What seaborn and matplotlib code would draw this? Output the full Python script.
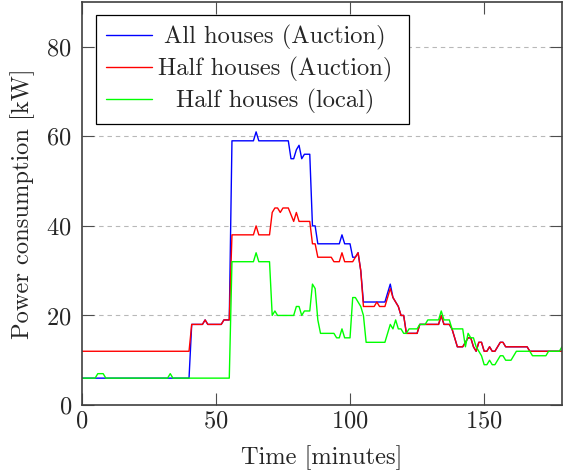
import matplotlib
matplotlib.use("Agg")
import matplotlib.pyplot as plt
from matplotlib.offsetbox import DrawingArea
import numpy as np
import pandas as pd
import seaborn as sns

# ---------------- data ----------------
series_names = ["All houses (Auction)", "Half houses (Auction)", "Half houses (local)"]

blue_t = [0, 40, 41, 45, 46, 47, 52, 53, 55, 56, 64, 65, 66, 77, 78, 79, 80, 81, 82, 83,
          85, 86, 87, 88, 96, 97, 98, 100, 101, 102, 103, 104, 105, 113, 115, 116, 117, 118, 119, 120,
          121, 125, 126, 133, 134, 135, 137, 138, 140, 142, 144, 145, 146, 147, 148, 149, 150, 151, 152, 153,
          154, 155, 156, 157, 158, 166, 167, 179]
blue_v = [6, 6, 18, 18, 19, 18, 18, 19, 19, 59, 59, 61, 59, 59, 55, 55, 57, 58, 55, 56,
          56, 40, 40, 36, 36, 38, 36, 36, 33, 33, 34, 30, 23, 23, 27, 24, 23, 22, 20, 20,
          16, 16, 18, 18, 20, 18, 18, 17, 13, 13, 15, 15, 13, 12, 14, 14, 12, 12, 13, 12,
          12, 13, 14, 14, 13, 13, 12, 12]

red_t = [0, 40, 41, 45, 46, 47, 52, 53, 55, 56, 64, 65, 66, 70, 71, 72, 73, 74, 75, 77,
         79, 80, 81, 85, 86, 87, 88, 93, 94, 96, 97, 98, 101, 102, 103, 104, 105, 109, 110, 111,
         113, 115, 116, 117, 118, 119, 120, 121, 125, 126, 133, 134, 135, 137, 138, 140, 142, 144, 145, 146,
         147, 148, 149, 150, 151, 152, 153, 154, 155, 156, 157, 158, 166, 167, 179]
red_v = [12, 12, 18, 18, 19, 18, 18, 19, 19, 38, 38, 40, 38, 38, 43, 44, 44, 43, 44, 44,
         41, 43, 41, 41, 36, 36, 33, 33, 32, 32, 34, 32, 32, 33, 34, 30, 22, 22, 23, 22,
         22, 26, 24, 23, 22, 20, 20, 16, 16, 18, 18, 20, 18, 18, 17, 13, 13, 15, 15, 13,
         12, 14, 14, 12, 12, 13, 12, 12, 13, 14, 14, 13, 13, 12, 12]

green_t = [0, 5, 6, 8, 9, 32, 33, 34, 55, 56, 64, 65, 66, 70, 71, 72, 73, 79, 80, 81,
           82, 83, 85, 86, 87, 88, 89, 94, 95, 96, 97, 98, 100, 101, 102, 103, 104, 105, 106, 113,
           115, 116, 117, 118, 119, 120, 121, 122, 125, 126, 128, 129, 133, 134, 135, 137, 138, 142, 143, 144,
           145, 146, 147, 148, 149, 150, 151, 152, 153, 154, 155, 156, 157, 158, 160, 161, 162, 167, 168, 173,
           174, 178, 179]
green_v = [6, 6, 7, 7, 6, 6, 7, 6, 6, 32, 32, 34, 32, 32, 20, 21, 20, 20, 22, 22,
           20, 21, 21, 27, 26, 19, 16, 16, 15, 15, 17, 15, 15, 24, 24, 23, 22, 20, 14, 14,
           18, 17, 19, 17, 17, 16, 16, 17, 17, 18, 18, 19, 19, 21, 19, 19, 17, 17, 13, 16,
           15, 15, 13, 12, 11, 9, 9, 10, 9, 9, 10, 11, 11, 10, 10, 11, 12, 12, 11, 11,
           12, 12, 13]

x_ticks = [0, 50, 100, 150]
y_ticks = [0, 20, 40, 60, 80]
x_label = "Time [minutes]"
y_label = "Power consumption [kW]"
colors = {series_names[0]: "#0000ff", series_names[1]: "#ff0000", series_names[2]: "#00ff00"}

FS = 17.6

# ---------------- style ----------------
sns.set_style("white")
plt.rcParams["font.family"] = ["cmr10", "DejaVu Serif"]
plt.rcParams["axes.formatter.use_mathtext"] = True
plt.rcParams["mathtext.fontset"] = "cm"

df = pd.concat([
    pd.DataFrame({"t": blue_t, "v": blue_v, "series": series_names[0]}),
    pd.DataFrame({"t": red_t, "v": red_v, "series": series_names[1]}),
    pd.DataFrame({"t": green_t, "v": green_v, "series": series_names[2]}),
], ignore_index=True)

fig = plt.figure(figsize=(5.63, 4.70), dpi=100)
ax = fig.add_axes([81.7 / 563, 65 / 470, (562 - 81.7) / 563, 403 / 470])

sns.lineplot(data=df, x="t", y="v", hue="series", hue_order=series_names,
             palette=colors, estimator=None, sort=False, legend=False,
             linewidth=1.0, ax=ax)

ax.set_xlim(0, 179)
ax.set_ylim(0, 90)
ax.set_xticks(x_ticks)
ax.set_yticks(y_ticks)
ax.set_xlabel(x_label, fontsize=FS, labelpad=9)
ax.set_ylabel(y_label, fontsize=FS, labelpad=8)
ax.xaxis.grid(False)
ax.yaxis.grid(True, linestyle=(0, (4, 3.5)), color="0.72", linewidth=0.8)
ax.set_axisbelow(True)
ax.tick_params(axis="both", direction="in", length=8.5, width=0.8, color="0.3",
               top=True, right=True, bottom=True, left=True, labelsize=FS)
ax.tick_params(axis="x", pad=4)
ax.tick_params(axis="y", pad=7)
for s in ax.spines.values():
    s.set_visible(True)
    s.set_color("0.25")
    s.set_linewidth(1.2)

leg = ax.legend(handles=ax.lines[:3], labels=series_names, loc="upper left",
                bbox_to_anchor=(0.03, 0.968), borderaxespad=0, fancybox=False,
                framealpha=1, edgecolor="black", fontsize=FS, handlelength=1.85,
                handletextpad=0.26, labelspacing=0.27, borderpad=0.42)
leg.get_frame().set_linewidth(0.9)

# center legend texts between handle and right border, like the reference
fig.canvas.draw()
texts = leg.get_texts()
widths = [t.get_window_extent().width for t in texts]
wmax = max(widths)
col = leg._legend_handle_box.get_children()[0]
for row, w in zip(col.get_children(), widths):
    row.sep += (wmax - w) / 2 * 72 / fig.dpi
    row.get_children().append(DrawingArea(0.0, 0.0))

fig.savefig("out.png", dpi=100)
